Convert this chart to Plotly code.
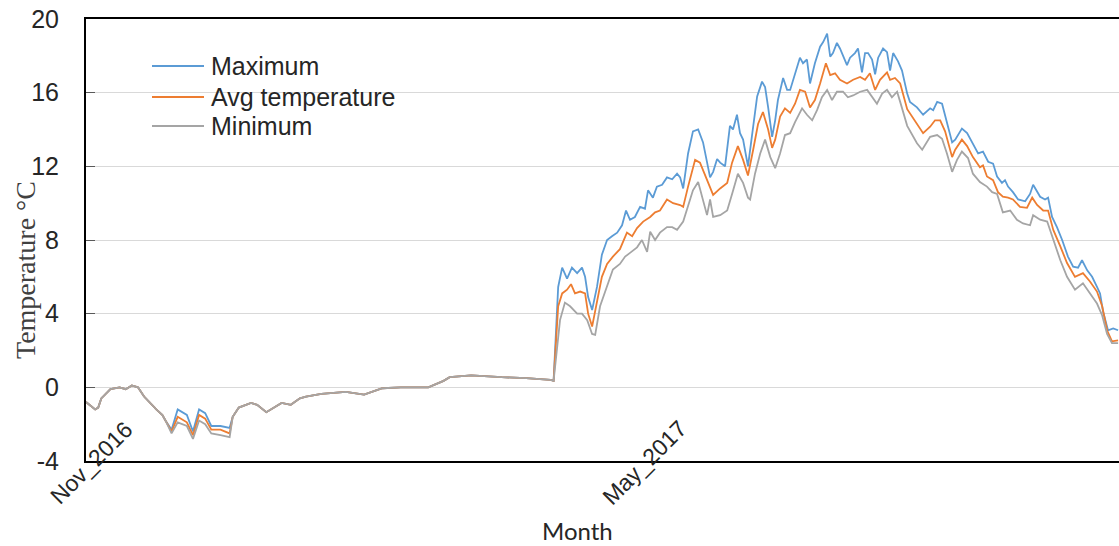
import pandas as pd
import plotly.graph_objects as go

START = pd.Timestamp("2016-11-01")

# ---- winter part shared by all three series (day offsets from 1 Nov 2016) ----
common_a_days = [0, 2, 3, 4, 5, 8, 11, 13, 15, 17, 19, 23, 25, 26]
common_a_vals = [-0.8, -1.1, -1.2, -1.1, -0.6, -0.1, 0.0, -0.1, 0.1, 0.0, -0.5, -1.2, -1.5, -1.8]

div_days = [28, 30, 33, 35, 37, 39, 41, 44, 47]
max_div = [-2.3, -1.2, -1.5, -2.4, -1.2, -1.4, -2.1, -2.1, -2.2]
avg_div = [-2.4, -1.6, -1.9, -2.6, -1.5, -1.7, -2.3, -2.3, -2.5]
min_div = [-2.5, -1.9, -2.1, -2.8, -1.8, -2.0, -2.5, -2.6, -2.7]

common_b_days = [48, 50, 54, 56, 59, 62, 64, 67, 70, 72, 77, 85, 91, 97, 103, 112,
                 117, 119, 126, 136, 144, 152, 153]
common_b_vals = [-1.6, -1.1, -0.85, -0.95, -1.35, -1.05, -0.85, -0.95, -0.6, -0.5, -0.35,
                 -0.25, -0.4, -0.05, 0.0, 0.0, 0.35, 0.55, 0.65, 0.55, 0.5, 0.4, 0.35]

# ---- summer / autumn part ----
max_days = [154.5, 155.8, 157.4, 159.0, 160.7, 162.3, 163.3, 164.3, 165.6, 167.2, 168.8, 170.5,
            172.1, 173.8, 175.4, 176.7, 178.0, 179.6, 181.3, 182.9, 183.9, 185.5, 186.8, 188.5,
            190.1, 191.8, 193.4, 194.4, 195.4, 197.0, 198.6, 200.3, 201.9, 203.2, 204.2, 205.2,
            206.5, 207.5, 209.1, 210.7, 211.7, 213.0, 214.0, 215.0, 216.6, 218.3, 219.6, 221.2,
            222.2, 223.2, 224.5, 225.5, 226.4, 228.1, 229.4, 230.4, 232.0, 233.6, 234.6, 235.9,
            236.9, 238.5, 240.2, 241.2, 242.5, 243.5, 244.4, 245.7, 246.7, 247.7, 249.0, 250.0,
            251.6, 252.6, 253.9, 254.9, 255.9, 257.2, 258.2, 259.2, 260.8, 262.1, 263.1, 264.1,
            265.7, 267.0, 268.7, 269.6, 271.9, 273.9, 276.2, 277.2, 278.5, 280.1, 281.7, 283.4,
            284.4, 286.6, 288.3, 290.2, 291.9, 293.5, 295.2, 296.8, 298.1, 299.7, 300.7, 301.7,
            303.3, 305.0, 307.3, 308.9, 309.9, 312.2, 313.8, 314.8, 316.1, 317.7, 319.4, 321.3,
            323.0, 324.6, 325.9, 327.6, 329.2, 330.8, 331.8, 332.8, 334.4, 336.1, 337.7]
max_vals = [5.45, 6.5, 5.9, 6.5, 6.2, 6.5, 6.0, 4.9, 4.2, 5.45, 7.2, 8.0,
            8.2, 8.4, 8.8, 9.6, 9.1, 9.25, 9.8, 9.7, 10.7, 10.3, 10.9, 11.0,
            11.4, 11.3, 11.6, 11.4, 10.8, 12.7, 13.9, 14.0, 13.3, 12.3, 11.4, 11.7,
            12.4, 12.2, 12.0, 14.2, 14.0, 14.8, 13.8, 13.45, 12.0, 14.15, 15.8, 16.6,
            16.3, 15.2, 13.6, 14.5, 15.6, 16.8, 16.15, 16.15, 17.05, 17.9, 17.6, 17.8,
            16.5, 17.6, 18.5, 18.75, 19.2, 17.95, 18.15, 18.7, 18.4, 18.05, 17.5, 17.9,
            18.15, 18.4, 17.1, 18.15, 18.15, 17.8, 17.0, 17.9, 18.4, 18.2, 17.2, 18.15,
            17.7, 17.2, 15.95, 15.5, 15.2, 14.8, 15.15, 15.05, 15.5, 15.4, 14.4, 13.3,
            13.45, 14.05, 13.8, 13.25, 12.7, 12.8, 12.25, 12.15, 11.45, 11.1, 11.25, 10.9,
            10.6, 10.2, 10.1, 10.5, 11.0, 10.35, 10.2, 10.3, 9.25, 8.7, 8.0, 7.1,
            6.55, 6.5, 6.9, 6.35, 6.0, 5.45, 5.1, 4.1, 3.1, 3.2, 3.1]

avg_days = [154.5, 155.8, 157.4, 158.7, 160.0, 161.7, 163.3, 164.3, 165.6, 167.2, 168.8, 170.5,
            172.4, 174.7, 177.0, 178.7, 180.3, 182.3, 184.6, 186.2, 187.8, 190.1, 192.1, 194.4,
            195.4, 197.0, 199.3, 200.9, 203.2, 205.2, 207.5, 209.8, 211.4, 213.3, 215.0, 216.6,
            218.3, 219.9, 221.5, 223.2, 224.5, 225.5, 227.1, 228.7, 230.4, 232.0, 233.6, 235.3,
            236.9, 238.5, 240.2, 242.1, 243.5, 245.1, 246.7, 249.0, 251.0, 253.3, 254.9, 256.5,
            258.2, 259.8, 262.1, 263.1, 264.7, 266.4, 268.7, 271.9, 273.9, 276.2, 277.8, 279.5,
            281.1, 283.4, 284.4, 286.6, 288.3, 290.2, 292.5, 293.5, 294.8, 296.8, 298.4, 300.0,
            301.7, 303.3, 305.6, 307.9, 309.6, 311.2, 313.2, 314.8, 316.5, 318.8, 321.0, 323.6,
            326.2, 328.5, 330.8, 332.5, 334.1, 335.7, 337.7]
avg_vals = [4.4, 5.1, 5.3, 5.6, 5.1, 5.2, 5.1, 4.0, 3.3, 4.6, 6.0, 6.7,
            7.1, 7.5, 8.4, 8.2, 8.65, 9.0, 9.25, 9.5, 9.6, 10.2, 10.0, 9.9,
            9.8, 10.9, 12.35, 12.2, 11.25, 10.45, 10.8, 11.1, 12.2, 13.1, 12.35, 11.5,
            12.9, 14.3, 14.95, 14.0, 13.0, 13.45, 14.7, 15.15, 14.9, 15.4, 16.15, 16.05,
            15.2, 15.6, 16.5, 17.6, 16.95, 17.05, 16.7, 16.5, 16.7, 16.85, 16.7, 17.05,
            16.15, 16.7, 17.1, 16.7, 16.8, 16.5, 15.1, 14.3, 13.8, 14.15, 14.5, 14.5,
            13.9, 12.5, 12.9, 13.45, 13.1, 12.5, 11.95, 12.05, 11.45, 11.25, 10.6, 10.35,
            10.3, 10.2, 9.8, 9.75, 10.3, 9.9, 9.6, 9.6, 8.55, 7.65, 6.75, 6.0,
            6.2, 5.75, 5.2, 4.4, 3.1, 2.5, 2.55]

min_days = [155.1, 156.7, 158.4, 160.7, 162.3, 164.0, 165.6, 166.6, 168.2, 170.5, 172.4, 174.7,
            176.4, 178.0, 180.3, 181.9, 183.6, 184.6, 186.2, 187.8, 190.1, 191.8, 193.4, 195.4,
            197.0, 198.6, 200.3, 201.9, 203.2, 204.2, 205.2, 207.5, 209.8, 211.4, 213.3, 215.0,
            216.6, 217.3, 218.9, 220.6, 222.2, 223.9, 225.5, 227.1, 228.7, 230.4, 232.0, 234.3,
            235.9, 237.6, 239.2, 240.8, 242.5, 244.1, 245.7, 247.7, 249.3, 251.0, 253.3, 255.6,
            257.2, 258.8, 260.5, 262.1, 263.7, 265.4, 266.4, 268.7, 271.9, 273.6, 276.2, 278.5,
            280.1, 281.7, 283.4, 285.0, 286.6, 288.6, 290.2, 292.5, 294.8, 296.5, 298.1, 300.0,
            302.4, 304.6, 306.6, 308.9, 309.9, 312.2, 314.5, 316.5, 318.8, 321.0, 323.6, 326.2,
            328.5, 330.8, 332.5, 334.1, 335.7, 337.7]
min_vals = [3.65, 4.6, 4.4, 4.0, 4.0, 3.65, 2.9, 2.85, 4.4, 5.45, 6.4, 6.7,
            7.1, 7.3, 7.6, 8.0, 7.35, 8.45, 8.0, 8.4, 8.7, 8.7, 8.55, 9.0,
            9.8, 10.7, 11.15, 10.2, 9.35, 10.2, 9.25, 9.35, 9.6, 10.5, 11.6, 11.1,
            10.3, 10.2, 11.6, 12.7, 13.45, 12.5, 11.9, 12.7, 13.7, 13.8, 14.4, 15.15,
            14.8, 14.5, 15.05, 15.75, 16.15, 15.6, 16.05, 16.05, 15.75, 15.85, 16.05, 16.15,
            15.75, 15.4, 15.95, 16.15, 15.75, 16.05, 15.5, 14.2, 13.25, 12.9, 13.6, 13.7,
            13.5, 12.7, 11.7, 12.35, 12.8, 12.45, 11.6, 11.15, 10.9, 10.6, 10.5, 9.5,
            9.6, 9.1, 8.9, 8.8, 9.35, 9.1, 9.0, 8.0, 6.9, 6.0, 5.3, 5.65,
            5.1, 4.55, 3.9, 2.9, 2.4, 2.4]

series_names = ["Maximum", "Avg temperature", "Minimum"]
series_colors = ["#5B9BD5", "#ED7D31", "#A5A5A5"]

tick_days = [0, 181]
tick_labels = ["Nov_2016", "May_2017"]
y_ticks = [-4, 0, 4, 8, 12, 16, 20]


def to_dates(days):
    return START + pd.to_timedelta(days, unit="D")


def build(div_vals, days, vals):
    d = common_a_days + div_days + common_b_days + days
    v = common_a_vals + div_vals + common_b_vals + vals
    return to_dates(d), v


fig = go.Figure()
for name, color, dv, dd, vv in zip(series_names, series_colors,
                                    [max_div, avg_div, min_div],
                                    [max_days, avg_days, min_days],
                                    [max_vals, avg_vals, min_vals]):
    x, y = build(dv, dd, vv)
    fig.add_trace(go.Scatter(x=x, y=y, mode="lines", name=name, showlegend=False,
                             line=dict(color=color, width=1.8)))

TICKFONT = dict(family="Liberation Sans, Arial, sans-serif", size=25, color="#262626")

W, H = 1119, 546
ML, MR, MT, MB = 86, 0, 19, 85
PW, PH = W - ML - MR, H - MT - MB


def px_x(px):
    return (px - ML) / PW


def px_y(py):
    return (H - MB - py) / PH


fig.update_layout(
    width=W, height=H,
    margin=dict(l=ML, r=MR, t=MT, b=MB),
    paper_bgcolor="white", plot_bgcolor="white",
    xaxis=dict(type="date",
               range=[to_dates([0])[0], to_dates([338])[0]],
               showgrid=False, showticklabels=False, ticks="",
               showline=True, linecolor="black", linewidth=2, mirror=True,
               zeroline=False),
    yaxis=dict(range=[-4, 20], tickvals=y_ticks, ticktext=[str(t) for t in y_ticks],
               showgrid=True, gridcolor="#D9D9D9", gridwidth=1,
               ticks="inside", ticklen=9, tickcolor="#595959", tickwidth=1,
               ticklabelstandoff=20,
               showline=True, linecolor="black", linewidth=2,
               zeroline=False, tickfont=TICKFONT),
)

# legend (line sample + label per series)
legend_rows = [66, 97, 126]
for name, color, row in zip(series_names, series_colors, legend_rows):
    fig.add_shape(type="line", xref="paper", yref="paper",
                  x0=px_x(152), x1=px_x(204), y0=px_y(row), y1=px_y(row),
                  line=dict(color=color, width=1.8))
    fig.add_annotation(x=px_x(209), y=px_y(row), xref="paper", yref="paper",
                       text=name, showarrow=False, xanchor="left", yanchor="middle",
                       font=dict(family="Liberation Sans, Arial, sans-serif", size=25,
                                 color="#262626"))

# rotated x tick labels placed on the date axis
for d, lab in zip(tick_days, tick_labels):
    fig.add_annotation(x=to_dates([d])[0], y=-4, xref="x", yref="y",
                       text=lab, textangle=-45, showarrow=False,
                       xanchor="center", yanchor="middle", xshift=5, yshift=-2,
                       font=dict(family="Liberation Sans, Arial, sans-serif", size=23,
                                 color="#262626"))

# axis titles
fig.add_annotation(x=px_x(25), y=px_y(270), xref="paper", yref="paper",
                   text="Temperature °C", textangle=-90, showarrow=False,
                   xanchor="center", yanchor="middle",
                   font=dict(family="Liberation Serif, Times New Roman, serif", size=28,
                             color="#404040"))
fig.add_annotation(x=px_x(577), y=px_y(530), xref="paper", yref="paper",
                   text="Month", showarrow=False, xanchor="center", yanchor="middle",
                   font=dict(family="Lato, Calibri, sans-serif", size=24, color="#262626"))

fig.write_html("out.html")
